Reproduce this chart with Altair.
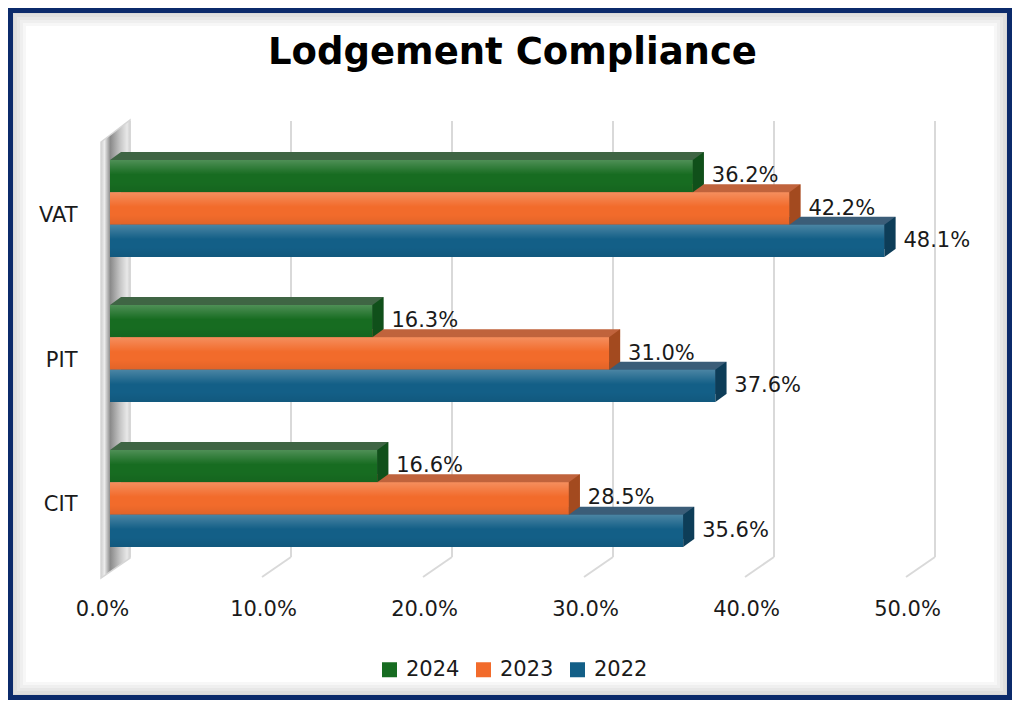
import altair as alt
import pandas as pd

# ---------------- data ----------------
categories = ["VAT", "PIT", "CIT"]
series_names = ["2024", "2023", "2022"]
values_2024 = [36.2, 16.3, 16.6]
values_2023 = [42.2, 31.0, 28.5]
values_2022 = [48.1, 37.6, 35.6]
x_ticks = [0, 10, 20, 30, 40, 50]
title_text = ["Lodgement Compliance"]

# ---------------- styles ----------------
front_colors = ["#176c21", "#f26b2b", "#135f87"]
top_colors = ["#3f6544", "#c0633c", "#3b5d78"]
side_colors = ["#10501a", "#a34a1f", "#0d3d58"]
FONT = "DejaVu Sans"
FS = 21
TXT = "#1a1a1a"

W, H = 805, 453
PAD = {"left": 102, "top": 119, "right": 97, "bottom": 120}

rows = []
for s, vals in zip(series_names, [values_2024, values_2023, values_2022]):
    for c, v in zip(categories, vals):
        rows.append({"cat": c, "series": s, "frac": v / 100.0, "zero": 0.0})
df = pd.DataFrame(rows)
grid_df = pd.DataFrame({"tick": [t / 100.0 for t in x_ticks]})

# decorative (pixel) geometry
wall_df = pd.DataFrame({"px": [-9, 20], "py": [15, -7], "py2": [451, 431]})
shade_df = pd.DataFrame({"sw": [6, 12, 18, 24, 30, 36]})
one_df = pd.DataFrame({"t": title_text})

xs = alt.Scale(domain=[0, 0.5], nice=False, zero=True)
x_axis = alt.Axis(values=[t / 100.0 for t in x_ticks], format=".1%", domain=False, ticks=False,
                  grid=False, labelFont=FONT, labelFontSize=FS, labelColor=TXT,
                  labelOffset=-8, labelPadding=18, labelFlush=False, labelOverlap=False)


def X(field):
    return alt.X(field, scale=xs, axis=x_axis, title=None)


def yscale(shift=0):
    return alt.Scale(domain=categories, range=[shift, H + shift],
                     paddingInner=0.331, paddingOuter=0.2276)


yoff = alt.YOffset("series:N", scale=alt.Scale(type="band", domain=series_names,
                                               paddingInner=0, paddingOuter=0))

# custom shapes: size 4096 -> 1 unit = 32 px
HB = 32.35 / 2 / 32.0
DX = 11 / 32.0
DY = 8 / 32.0
SIDE = f"M0,{-HB:.4f}L{DX:.4f},{-HB-DY:.4f}L{DX:.4f},{HB-DY:.4f}L0,{HB:.4f}Z"
TRI = f"M0,{-HB:.4f}L{DX:.4f},{-HB-DY:.4f}L{DX:.4f},{-HB:.4f}Z"

# ---------------- layers ----------------
shade = alt.Chart(shade_df).mark_rect(fill="#ffffff", fillOpacity=0, stroke="#000000",
                                      strokeOpacity=0.03).encode(
    x=alt.value(-PAD["left"]), x2=alt.value(W + PAD["right"]),
    y=alt.value(-PAD["top"]), y2=alt.value(H + PAD["bottom"]),
    strokeWidth=alt.StrokeWidth("sw:Q", scale=None))

frame = alt.Chart(one_df).mark_rect(fill="#ffffff", fillOpacity=0, stroke="#0b2a6b",
                                    strokeWidth=5).encode(
    x=alt.value(-PAD["left"] + 2.5), x2=alt.value(W + PAD["right"] - 2.5),
    y=alt.value(-PAD["top"] + 2.5), y2=alt.value(H + PAD["bottom"] - 2.5))

grid_v = alt.Chart(grid_df).mark_rule(color="#d9d9d9", strokeWidth=2, xOffset=20).encode(
    x=X("tick:Q"), y=alt.value(-6), y2=alt.value(430))

grid_s = alt.Chart(grid_df).mark_rule(color="#d9d9d9", strokeWidth=2, xOffset=20, x2Offset=-9).encode(
    x=X("tick:Q"), x2="tick:Q", y=alt.value(430), y2=alt.value(450))

wall_grad = alt.Gradient(gradient="linear", x1=0, x2=1, y1=0, y2=0, stops=[
    alt.GradientStop(color="#cfcfcf", offset=0),
    alt.GradientStop(color="#ececec", offset=0.12),
    alt.GradientStop(color="#8a8a8a", offset=0.32),
    alt.GradientStop(color="#c4c4c4", offset=0.65),
    alt.GradientStop(color="#e8e8e8", offset=0.9),
    alt.GradientStop(color="#d0d0d0", offset=1)])
wall = alt.Chart(wall_df).mark_area(color=wall_grad, stroke="#d6d6d6", strokeWidth=1.5,
                                    orient="vertical").encode(
    x=alt.X("px:Q", scale=None), y=alt.Y("py:Q", scale=None), y2="py2:Q")

back = alt.Chart(df).mark_bar(xOffset=11, x2Offset=11).encode(
    x=X("frac:Q"), x2="zero:Q",
    y=alt.Y("cat:N", scale=yscale(-8), axis=None), yOffset=yoff,
    color=alt.Color("series:N", scale=alt.Scale(domain=series_names, range=top_colors), legend=None))

tri = alt.Chart(df).mark_point(shape=TRI, size=4096, filled=True, opacity=1, strokeWidth=0).encode(
    x=X("zero:Q"),
    y=alt.Y("cat:N", scale=yscale(0), axis=None), yOffset=yoff,
    color=alt.Color("series:N", scale=alt.Scale(domain=series_names, range=top_colors), legend=None))

front = alt.Chart(df).mark_bar().encode(
    x=X("frac:Q"),
    x2="zero:Q",
    y=alt.Y("cat:N", scale=yscale(0), title=None,
            axis=alt.Axis(domain=False, ticks=False, grid=False, labelFont=FONT, labelFontSize=FS,
                          labelColor=TXT, labelOffset=7, labelPadding=33)),
    yOffset=yoff,
    color=alt.Color("series:N", scale=alt.Scale(domain=series_names, range=front_colors),
                    legend=alt.Legend(orient="none", legendX=269, legendY=532, direction="horizontal",
                                      title=None, symbolType="square", symbolSize=225,
                                      symbolStrokeWidth=0, labelFont=FONT, labelFontSize=FS,
                                      labelColor=TXT, labelOffset=6, columnPadding=13, padding=0)))

sheen_grad = alt.Gradient(gradient="linear", x1=0, x2=0, y1=0, y2=1, stops=[
    alt.GradientStop(color="rgba(255,255,255,0.24)", offset=0),
    alt.GradientStop(color="rgba(255,255,255,0.0)", offset=0.45),
    alt.GradientStop(color="rgba(0,0,0,0.0)", offset=0.7),
    alt.GradientStop(color="rgba(0,0,0,0.07)", offset=1)])
sheen = alt.Chart(df).mark_bar(color=sheen_grad).encode(
    x=X("frac:Q"), x2="zero:Q",
    y=alt.Y("cat:N", scale=yscale(0), axis=None), yOffset=yoff)

side = alt.Chart(df).mark_point(shape=SIDE, size=4096, filled=True, opacity=1, strokeWidth=0).encode(
    x=X("frac:Q"),
    y=alt.Y("cat:N", scale=yscale(0), axis=None), yOffset=yoff,
    color=alt.Color("series:N", scale=alt.Scale(domain=series_names, range=side_colors), legend=None))

labels = alt.Chart(df).mark_text(align="left", baseline="middle", dx=19, font=FONT, fontSize=FS,
                                 color=TXT).encode(
    x=X("frac:Q"),
    y=alt.Y("cat:N", scale=yscale(0), axis=None), yOffset=yoff,
    text=alt.Text("frac:Q", format=".1%"))

title = alt.Chart(one_df).mark_text(font=FONT, fontWeight="bold", fontSize=37, align="center",
                                    baseline="alphabetic", color="#000000").encode(
    x=alt.value(W / 2), y=alt.value(-63), text="t:N")

chart = alt.layer(shade, frame, grid_v, grid_s, wall, back, tri, front, sheen, side, labels, title).resolve_scale(
    color="independent", y="independent", yOffset="independent"
).properties(
    width=W, height=H, padding=PAD,
    autosize=alt.AutoSizeParams(type="none"),
    background="#ffffff"
).configure_view(strokeWidth=0)

chart.save("out.html", embed_options={"renderer": "svg", "actions": False})
